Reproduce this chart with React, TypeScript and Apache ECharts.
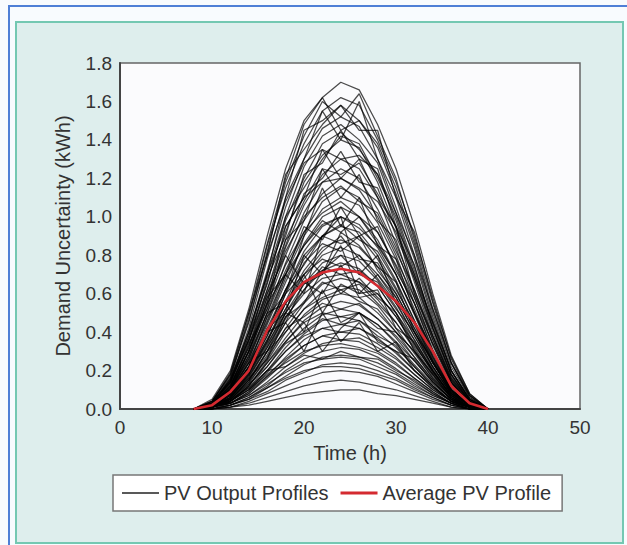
import React, { useEffect, useRef } from "react";
import * as echarts from "echarts";

const HOURS = [8, 10, 12, 14, 16, 18, 20, 22, 24, 26, 28, 30, 32, 34, 36, 38, 40];
const X_TICKS = [0, 10, 20, 30, 40, 50];
const Y_TICKS = [0, 0.2, 0.4, 0.6, 0.8, 1.0, 1.2, 1.4, 1.6, 1.8];

const p01 = [0, 0.05, 0.2, 0.52, 0.9, 1.25, 1.5, 1.62, 1.7, 1.66, 1.48, 1.25, 0.95, 0.6, 0.28, 0.08, 0];
const p02 = [0, 0.04, 0.17, 0.45, 0.82, 1.18, 1.42, 1.6, 1.52, 1.64, 1.42, 1.2, 0.88, 0.55, 0.24, 0.07, 0];
const p03 = [0, 0.03, 0.15, 0.42, 0.78, 1.1, 1.45, 1.5, 1.58, 1.5, 1.36, 1.12, 0.84, 0.5, 0.22, 0.06, 0];
const p04 = [0, 0.03, 0.16, 0.4, 0.72, 1.05, 1.3, 1.46, 1.52, 1.47, 1.3, 1.05, 0.78, 0.46, 0.2, 0.05, 0];
const p05 = [0, 0.02, 0.13, 0.38, 0.7, 1.0, 1.26, 1.42, 1.48, 1.4, 1.28, 1.02, 0.74, 0.44, 0.18, 0.05, 0];
const p06 = [0, 0.03, 0.14, 0.36, 0.66, 0.98, 1.2, 1.38, 1.44, 1.35, 1.22, 0.98, 0.7, 0.42, 0.17, 0.04, 0];
const p07 = [0, 0.02, 0.12, 0.33, 0.62, 0.92, 1.18, 1.32, 1.4, 1.36, 1.18, 0.94, 0.66, 0.38, 0.15, 0.04, 0];
const p08 = [0, 0.03, 0.1, 0.3, 0.55, 0.95, 1.1, 1.35, 1.2, 1.3, 1.1, 0.95, 0.6, 0.36, 0.14, 0.03, 0];
const p09 = [0, 0.02, 0.11, 0.3, 0.56, 0.84, 1.06, 1.22, 1.3, 1.25, 1.1, 0.86, 0.62, 0.36, 0.14, 0.03, 0];
const p10 = [0, 0.02, 0.1, 0.28, 0.54, 0.8, 1.02, 1.18, 1.25, 1.2, 1.04, 0.84, 0.58, 0.33, 0.13, 0.03, 0];
const p11 = [0, 0.02, 0.1, 0.26, 0.5, 0.76, 0.98, 1.12, 1.2, 1.14, 1.0, 0.8, 0.55, 0.31, 0.12, 0.03, 0];
const p12 = [0, 0.02, 0.08, 0.22, 0.48, 0.6, 0.9, 1.15, 0.95, 1.1, 0.85, 0.78, 0.5, 0.3, 0.1, 0.02, 0];
const p13 = [0, 0.02, 0.09, 0.24, 0.46, 0.7, 0.9, 1.04, 1.1, 1.06, 0.92, 0.74, 0.52, 0.29, 0.11, 0.03, 0];
const p14 = [0, 0.02, 0.08, 0.22, 0.44, 0.66, 0.86, 1.0, 1.05, 1.0, 0.88, 0.7, 0.49, 0.27, 0.1, 0.02, 0];
const p15 = [0, 0.02, 0.08, 0.21, 0.4, 0.62, 0.82, 0.95, 1.0, 0.96, 0.84, 0.67, 0.46, 0.26, 0.1, 0.02, 0];
const p16 = [0, 0.01, 0.07, 0.2, 0.38, 0.6, 0.78, 0.9, 0.95, 0.92, 0.8, 0.63, 0.44, 0.24, 0.09, 0.02, 0];
const p17 = [0, 0.02, 0.07, 0.18, 0.42, 0.5, 0.8, 0.7, 0.92, 0.85, 0.74, 0.66, 0.4, 0.25, 0.08, 0.02, 0];
const p18 = [0, 0.01, 0.06, 0.18, 0.35, 0.55, 0.72, 0.84, 0.88, 0.84, 0.74, 0.58, 0.4, 0.22, 0.08, 0.02, 0];
const p19 = [0, 0.01, 0.06, 0.17, 0.33, 0.52, 0.68, 0.8, 0.84, 0.8, 0.7, 0.56, 0.38, 0.21, 0.08, 0.02, 0];
const p20 = [0, 0.01, 0.06, 0.16, 0.32, 0.5, 0.65, 0.76, 0.8, 0.77, 0.67, 0.53, 0.36, 0.2, 0.07, 0.02, 0];
const p21 = [0, 0.01, 0.05, 0.15, 0.3, 0.47, 0.62, 0.72, 0.76, 0.73, 0.64, 0.5, 0.34, 0.19, 0.07, 0.01, 0];
const p22 = [0, 0.01, 0.05, 0.14, 0.26, 0.48, 0.55, 0.72, 0.6, 0.68, 0.58, 0.5, 0.3, 0.18, 0.06, 0.01, 0];
const p23 = [0, 0.01, 0.05, 0.13, 0.27, 0.42, 0.55, 0.65, 0.68, 0.66, 0.57, 0.45, 0.31, 0.17, 0.06, 0.01, 0];
const p24 = [0, 0.01, 0.04, 0.12, 0.25, 0.4, 0.52, 0.61, 0.64, 0.62, 0.54, 0.42, 0.29, 0.16, 0.06, 0.01, 0];
const p25 = [0, 0.01, 0.04, 0.12, 0.24, 0.37, 0.49, 0.57, 0.6, 0.58, 0.5, 0.4, 0.27, 0.15, 0.05, 0.01, 0];
const p26 = [0, 0.01, 0.04, 0.11, 0.22, 0.35, 0.46, 0.53, 0.56, 0.54, 0.47, 0.37, 0.25, 0.14, 0.05, 0.01, 0];
const p27 = [0, 0.01, 0.04, 0.1, 0.2, 0.32, 0.42, 0.49, 0.52, 0.5, 0.44, 0.34, 0.23, 0.13, 0.05, 0.01, 0];
const p28 = [0, 0.01, 0.03, 0.09, 0.19, 0.3, 0.39, 0.46, 0.48, 0.46, 0.4, 0.32, 0.22, 0.12, 0.04, 0.01, 0];
const p29 = [0, 0.01, 0.03, 0.08, 0.17, 0.27, 0.36, 0.42, 0.44, 0.42, 0.37, 0.29, 0.2, 0.11, 0.04, 0.01, 0];
const p30 = [0, 0.01, 0.03, 0.08, 0.16, 0.25, 0.33, 0.38, 0.4, 0.39, 0.34, 0.27, 0.18, 0.1, 0.04, 0.01, 0];
const p31 = [0, 0, 0.03, 0.07, 0.14, 0.22, 0.29, 0.34, 0.36, 0.35, 0.3, 0.24, 0.16, 0.09, 0.03, 0.01, 0];
const p32 = [0, 0, 0.02, 0.06, 0.12, 0.2, 0.26, 0.3, 0.32, 0.31, 0.27, 0.21, 0.14, 0.08, 0.03, 0, 0];
const p33 = [0, 0, 0.02, 0.05, 0.11, 0.17, 0.23, 0.27, 0.28, 0.27, 0.24, 0.19, 0.13, 0.07, 0.03, 0, 0];
const p34 = [0, 0, 0.02, 0.05, 0.09, 0.15, 0.19, 0.23, 0.24, 0.23, 0.2, 0.16, 0.11, 0.06, 0.02, 0, 0];
const p35 = [0, 0, 0.01, 0.04, 0.08, 0.12, 0.16, 0.19, 0.2, 0.19, 0.17, 0.13, 0.09, 0.05, 0.02, 0, 0];
const p36 = [0, 0, 0.01, 0.03, 0.06, 0.09, 0.12, 0.14, 0.15, 0.14, 0.12, 0.1, 0.07, 0.04, 0.01, 0, 0];
const p37 = [0, 0, 0.01, 0.02, 0.04, 0.06, 0.08, 0.09, 0.1, 0.1, 0.08, 0.07, 0.05, 0.03, 0.01, 0, 0];
const p38 = [0, 0.03, 0.14, 0.4, 0.7, 1.1, 1.3, 1.55, 1.4, 1.6, 1.3, 1.1, 0.8, 0.48, 0.2, 0.05, 0];
const p39 = [0, 0.04, 0.18, 0.5, 0.86, 1.2, 1.48, 1.62, 1.45, 1.5, 1.38, 1.15, 0.86, 0.52, 0.24, 0.06, 0];
const p40 = [0, 0.02, 0.1, 0.3, 0.55, 0.7, 0.6, 0.9, 1.0, 0.7, 0.8, 0.55, 0.45, 0.25, 0.1, 0.02, 0];
const p41 = [0, 0.01, 0.05, 0.15, 0.3, 0.45, 0.3, 0.5, 0.35, 0.45, 0.3, 0.35, 0.2, 0.12, 0.04, 0.01, 0];
const p42 = [0, 0.04, 0.18, 0.46, 0.8, 1.08, 1.28, 1.35, 1.3, 1.32, 1.22, 1.02, 0.8, 0.52, 0.24, 0.07, 0];
const p43 = [0, 0.02, 0.08, 0.2, 0.4, 0.55, 0.7, 0.5, 0.65, 0.6, 0.62, 0.42, 0.35, 0.2, 0.07, 0.01, 0];
const p44 = [0, 0.03, 0.15, 0.4, 0.7, 0.95, 1.1, 1.18, 1.2, 1.15, 1.08, 0.92, 0.7, 0.45, 0.2, 0.05, 0];
const p45 = [0, 0.03, 0.16, 0.48, 0.85, 1.15, 1.38, 1.55, 1.62, 1.58, 1.4, 1.18, 0.9, 0.58, 0.26, 0.07, 0];
const p46 = [0, 0.04, 0.19, 0.5, 0.8, 1.22, 1.35, 1.48, 1.58, 1.45, 1.45, 1.1, 0.92, 0.56, 0.27, 0.08, 0];
const p47 = [0, 0.02, 0.12, 0.35, 0.68, 0.9, 1.22, 1.28, 1.45, 1.3, 1.25, 0.95, 0.75, 0.42, 0.18, 0.04, 0];
const p48 = [0, 0.03, 0.13, 0.32, 0.6, 0.85, 1.12, 1.2, 1.34, 1.18, 1.15, 0.9, 0.68, 0.4, 0.16, 0.04, 0];
const p49 = [0, 0.02, 0.11, 0.34, 0.52, 0.88, 0.98, 1.25, 1.1, 1.22, 0.98, 0.88, 0.6, 0.38, 0.15, 0.03, 0];
const p50 = [0, 0.02, 0.1, 0.27, 0.5, 0.72, 0.92, 1.08, 1.15, 1.1, 0.97, 0.78, 0.58, 0.34, 0.14, 0.03, 0];
const p51 = [0, 0.03, 0.12, 0.3, 0.58, 0.7, 0.95, 0.88, 1.05, 0.9, 0.95, 0.72, 0.55, 0.3, 0.12, 0.03, 0];
const p52 = [0, 0.02, 0.09, 0.25, 0.45, 0.68, 0.85, 0.98, 0.92, 1.0, 0.86, 0.7, 0.5, 0.28, 0.1, 0.02, 0];
const p53 = [0, 0.02, 0.08, 0.22, 0.42, 0.62, 0.75, 0.9, 0.86, 0.9, 0.78, 0.62, 0.45, 0.25, 0.1, 0.02, 0];
const p54 = [0, 0.02, 0.09, 0.2, 0.38, 0.6, 0.7, 0.82, 0.9, 0.78, 0.76, 0.6, 0.42, 0.24, 0.09, 0.02, 0];
const p55 = [0, 0.01, 0.07, 0.19, 0.36, 0.52, 0.7, 0.78, 0.74, 0.8, 0.68, 0.55, 0.38, 0.22, 0.08, 0.02, 0];
const p56 = [0, 0.01, 0.06, 0.18, 0.34, 0.5, 0.62, 0.74, 0.7, 0.72, 0.64, 0.5, 0.36, 0.2, 0.07, 0.01, 0];
const p57 = [0, 0.02, 0.08, 0.24, 0.4, 0.45, 0.66, 0.6, 0.75, 0.58, 0.6, 0.48, 0.33, 0.2, 0.07, 0.01, 0];
const p58 = [0, 0.01, 0.05, 0.15, 0.28, 0.45, 0.56, 0.66, 0.62, 0.65, 0.55, 0.45, 0.32, 0.18, 0.06, 0.01, 0];
const p59 = [0, 0.01, 0.05, 0.14, 0.3, 0.4, 0.52, 0.58, 0.62, 0.56, 0.52, 0.4, 0.3, 0.16, 0.06, 0.01, 0];
const p60 = [0, 0.01, 0.06, 0.16, 0.26, 0.42, 0.48, 0.55, 0.52, 0.55, 0.47, 0.38, 0.27, 0.15, 0.05, 0.01, 0];
const p61 = [0, 0.01, 0.04, 0.12, 0.24, 0.35, 0.45, 0.5, 0.48, 0.5, 0.44, 0.35, 0.25, 0.14, 0.05, 0.01, 0];
const p62 = [0, 0.01, 0.04, 0.13, 0.22, 0.34, 0.4, 0.47, 0.44, 0.46, 0.38, 0.33, 0.22, 0.12, 0.04, 0.01, 0];
const p63 = [0, 0.01, 0.05, 0.11, 0.2, 0.3, 0.38, 0.42, 0.4, 0.42, 0.36, 0.3, 0.2, 0.11, 0.04, 0.01, 0];
const p64 = [0, 0.01, 0.04, 0.1, 0.18, 0.26, 0.33, 0.38, 0.36, 0.37, 0.32, 0.26, 0.18, 0.1, 0.04, 0, 0];
const p65 = [0, 0.01, 0.03, 0.09, 0.17, 0.24, 0.3, 0.33, 0.34, 0.32, 0.29, 0.23, 0.16, 0.09, 0.03, 0, 0];
const p66 = [0, 0.01, 0.04, 0.1, 0.2, 0.22, 0.28, 0.26, 0.3, 0.27, 0.26, 0.2, 0.15, 0.08, 0.03, 0, 0];
const p67 = [0, 0.01, 0.03, 0.07, 0.13, 0.19, 0.24, 0.26, 0.27, 0.26, 0.22, 0.18, 0.12, 0.07, 0.03, 0, 0];
const p68 = [0, 0, 0.02, 0.06, 0.11, 0.16, 0.2, 0.22, 0.22, 0.21, 0.18, 0.15, 0.1, 0.06, 0.02, 0, 0];
const p69 = [0, 0.02, 0.1, 0.28, 0.5, 0.55, 0.4, 0.62, 0.45, 0.5, 0.42, 0.4, 0.3, 0.18, 0.06, 0.01, 0];
const p70 = [0, 0.03, 0.14, 0.36, 0.6, 0.8, 0.65, 0.7, 0.85, 0.6, 0.7, 0.58, 0.4, 0.24, 0.09, 0.02, 0];
const p71 = [0, 0.02, 0.1, 0.24, 0.3, 0.5, 0.45, 0.3, 0.42, 0.5, 0.35, 0.3, 0.26, 0.14, 0.05, 0.01, 0];
const p72 = [0, 0.03, 0.15, 0.38, 0.65, 1.0, 1.15, 1.3, 1.42, 1.38, 1.2, 1.0, 0.72, 0.45, 0.2, 0.05, 0];
const p73 = [0, 0.03, 0.14, 0.36, 0.62, 0.88, 1.08, 1.25, 1.22, 1.28, 1.12, 0.95, 0.68, 0.42, 0.18, 0.04, 0];
const p74 = [0, 0.02, 0.12, 0.32, 0.58, 0.82, 1.0, 1.1, 1.16, 1.08, 1.02, 0.82, 0.62, 0.38, 0.16, 0.04, 0];
const p75 = [0, 0.02, 0.11, 0.3, 0.52, 0.75, 0.92, 1.02, 1.08, 1.0, 0.92, 0.75, 0.55, 0.34, 0.14, 0.03, 0];
const p76 = [0, 0.02, 0.1, 0.26, 0.48, 0.7, 0.85, 0.96, 1.0, 0.94, 0.85, 0.7, 0.5, 0.3, 0.12, 0.03, 0];
const p77 = [0, 0.01, 0.08, 0.2, 0.36, 0.56, 0.76, 0.86, 0.82, 0.9, 0.72, 0.6, 0.42, 0.24, 0.09, 0.02, 0];
const p78 = [0, 0.02, 0.09, 0.22, 0.4, 0.62, 0.8, 0.9, 0.96, 0.88, 0.82, 0.66, 0.46, 0.27, 0.1, 0.02, 0];
const p79 = [0, 0.01, 0.07, 0.19, 0.35, 0.55, 0.66, 0.72, 0.8, 0.7, 0.66, 0.52, 0.4, 0.22, 0.08, 0.02, 0];
const p80 = [0, 0.01, 0.06, 0.17, 0.32, 0.48, 0.6, 0.68, 0.7, 0.66, 0.6, 0.48, 0.34, 0.19, 0.07, 0.01, 0];

const PROFILES = [
  p01, p02, p03, p04, p05, p06, p07, p08, p09, p10, p11, p12, p13, p14, p15, p16,
  p17, p18, p19, p20, p21, p22, p23, p24, p25, p26, p27, p28, p29, p30, p31, p32,
  p33, p34, p35, p36, p37, p38, p39, p40, p41, p42, p43, p44, p45, p46, p47, p48,
  p49, p50, p51, p52, p53, p54, p55, p56, p57, p58, p59, p60, p61, p62, p63, p64,
  p65, p66, p67, p68, p69, p70, p71, p72, p73, p74, p75, p76, p77, p78, p79, p80,
];

const AVERAGE = [0, 0.02, 0.09, 0.2, 0.41, 0.56, 0.66, 0.71, 0.73, 0.71, 0.64, 0.56, 0.45, 0.3, 0.12, 0.03, 0];

const NAME_PROFILES = "PV Output Profiles";
const NAME_AVERAGE = "Average PV Profile";
const FONT = "Liberation Sans, Arial, Helvetica, sans-serif";
const RED = "#d42a30";

export default function App() {
  const ref = useRef<HTMLDivElement>(null);

  useEffect(() => {
    if (!ref.current) return;
    const chart = echarts.init(ref.current, undefined, { renderer: "svg" });
    const toPairs = (arr: number[]) => HOURS.map((h, i) => [h, arr[i]]);

    const series: any[] = PROFILES.map((p) => ({
      type: "line",
      name: NAME_PROFILES,
      data: toPairs(p),
      symbol: "none",
      silent: true,
      lineStyle: { color: "#000", width: 1.25, opacity: 0.7 },
      itemStyle: { color: "#222" },
      z: 2,
    }));
    series.push({
      type: "line",
      name: NAME_AVERAGE,
      data: toPairs(AVERAGE),
      symbol: "none",
      silent: true,
      lineStyle: { color: RED, width: 2.6 },
      itemStyle: { color: RED },
      z: 5,
    });

    chart.setOption({
      animation: false,
      backgroundColor: "transparent",
      textStyle: { fontFamily: FONT },
      grid: {
        left: 120,
        top: 63,
        right: 47,
        bottom: 136,
        show: true,
        backgroundColor: "#fbfbfd",
        borderColor: "#666",
        borderWidth: 1.5,
      },
      legend: {
        left: 113,
        top: 475,
        padding: [8, 11, 8, 9],
        itemGap: 12,
        itemWidth: 37,
        itemHeight: 3,
        backgroundColor: "#ffffff",
        borderColor: "#777",
        borderWidth: 1.5,
        borderRadius: 0,
        selectedMode: false,
        textStyle: { fontSize: 20, color: "#333", fontFamily: FONT },
        data: [
          { name: NAME_PROFILES, icon: "path://M0,0 L74,0 L74,3 L0,3 Z", itemStyle: { color: "#222" } },
          { name: NAME_AVERAGE, icon: "rect", itemStyle: { color: RED } },
        ],
      },
      xAxis: {
        type: "value",
        min: X_TICKS[0],
        max: X_TICKS[X_TICKS.length - 1],
        interval: 10,
        name: "Time (h)",
        nameLocation: "middle",
        nameGap: 34,
        nameTextStyle: { fontSize: 20, color: "#333", fontFamily: FONT, verticalAlign: "top" },
        axisLine: { show: true, lineStyle: { color: "#444", width: 2 } },
        axisTick: { show: false },
        splitLine: { show: false },
        axisLabel: { fontSize: 19, color: "#333", margin: 9, fontFamily: FONT },
      },
      yAxis: {
        type: "value",
        min: Y_TICKS[0],
        max: Y_TICKS[Y_TICKS.length - 1],
        interval: 0.2,
        name: "Demand Uncertainty (kWh)",
        nameLocation: "middle",
        nameGap: 47,
        nameTextStyle: { fontSize: 20, color: "#333", fontFamily: FONT },
        axisLine: { show: true, lineStyle: { color: "#444", width: 2 } },
        axisTick: { show: false },
        splitLine: { show: false },
        axisLabel: {
          fontSize: 19,
          color: "#333",
          margin: 8,
          fontFamily: FONT,
          formatter: (v: number) => v.toFixed(1),
        },
      },
      series,
    });

    return () => chart.dispose();
  }, []);

  return (
    <div style={{ position: "absolute", left: 0, top: 0, width: 627, height: 545, background: "#f8fbfe", overflow: "hidden" }}>
      <div style={{ position: "absolute", left: 8, top: 5, width: 640, height: 560, borderLeft: "2px solid #4f7fd6", borderTop: "2px solid #4f7fd6" }} />
      <div
        style={{
          position: "absolute",
          left: 15,
          top: 21,
          width: 605,
          height: 519,
          background: "#deeeed",
          border: "2px solid #74c8b2",
        }}
      />
      <div ref={ref} style={{ position: "absolute", left: 0, top: 0, width: 627, height: 545 }} />
    </div>
  );
}
